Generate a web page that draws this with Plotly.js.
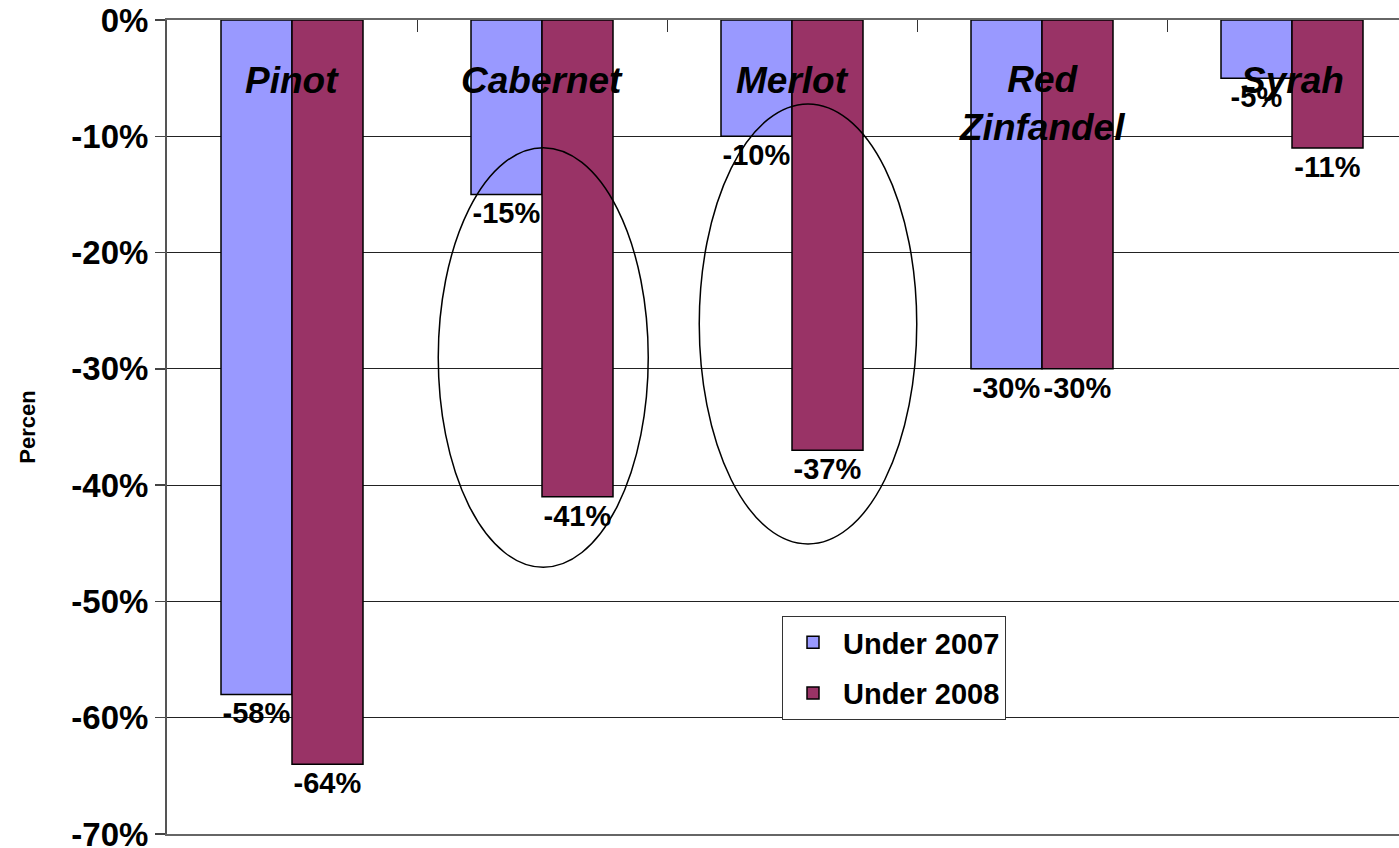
<!DOCTYPE html>
<html>
<head>
<meta charset="utf-8">
<script src="https://cdn.plot.ly/plotly-3.0.1.min.js"></script>
<style>
  html, body { margin: 0; padding: 0; overflow: hidden; background: #fff; }
  #chart { width: 1417px; height: 848px; }
</style>
</head>
<body>
<div id="chart"></div>
<script>
// Variacion porcentual por varietal, 2007 vs 2008
const categorias = ["Pinot", "Cabernet", "Merlot", "Red Zinfandel", "Syrah"];
const etiquetas = ["Pinot", "Cabernet", "Merlot", "Red<br>Zinfandel", "Syrah"];
const under2007 = [-58, -15, -10, -30, -5];
const under2008 = [-64, -41, -37, -30, -11];
const yTicks = [0, -10, -20, -30, -40, -50, -60, -70];
const yTickText = ["0%", "-10%", "-20%", "-30%", "-40%", "-50%", "-60%", "-70%"];

// elipses que resaltan Cabernet y Merlot (en unidades de los ejes)
const elipses = [
  { x0: 0.585, x1: 1.425, y0: -10.98, y1: -47.06 },
  { x0: 1.629, x1: 2.499, y0: -7.22, y1: -45.06 },
];

const FONT = "'Liberation Sans', Arial, sans-serif";

const serie = (nombre, valores, color, grupo) => ({
  type: "bar",
  name: nombre,
  legendgroup: grupo,
  x: categorias,
  y: valores,
  text: valores.map((v) => v + "%"),
  textposition: "outside",
  constraintext: "none",
  cliponaxis: false,
  textfont: { family: FONT, size: 29, color: "#000", weight: "bold" },
  marker: { color: color, line: { color: "#000", width: 1.5 } },
  hoverinfo: "x+y",
});

const data = [
  serie("Under 2007", under2007, "#9999FF", "a"),
  serie("Under 2008", under2008, "#993366", "b"),
];

const layout = {
  width: 1417, height: 848,
  margin: { l: 167, r: 0, t: 20, b: 14 },
  paper_bgcolor: "#fff", plot_bgcolor: "#fff",
  barmode: "group", bargap: 0.432, bargroupgap: 0,
  font: { family: FONT, color: "#000" },
  xaxis: {
    side: "top", showticklabels: false, showgrid: false, zeroline: false,
    ticks: "inside", tickson: "boundaries", ticklen: 12, tickwidth: 1, tickcolor: "#333",
    showline: true, mirror: true, linecolor: "#666", linewidth: 2,
  },
  yaxis: {
    range: [-70, 0], tickvals: yTicks, ticktext: yTickText,
    tickfont: { family: FONT, size: 33, weight: "bold", color: "#000" },
    ticklabeloverflow: "allow",
    ticks: "outside", ticklen: 10, tickcolor: "#444", tickwidth: 1.5,
    showline: true, linecolor: "#555", linewidth: 2,
    showgrid: true, gridcolor: "#222", gridwidth: 1, zeroline: false,
    title: { text: "Percen", font: { family: FONT, size: 22, weight: "bold" }, standoff: 30 },
  },
  legend: {
    x: 0.492, y: 0.268, xanchor: "left", yanchor: "top",
    bgcolor: "#fff", bordercolor: "#333", borderwidth: 1,
    traceorder: "grouped", tracegroupgap: 10, itemwidth: 50,
    font: { family: FONT, size: 29, weight: "bold", color: "#000" },
  },
  shapes: elipses.map((e) => ({
    type: "circle", xref: "x", yref: "y", layer: "above",
    x0: e.x0, x1: e.x1, y0: e.y0, y1: e.y1,
    line: { color: "#000", width: 1.5 },
  })),
  annotations: categorias.map((c, i) => ({
    x: c, y: etiquetas[i].includes("<br>") ? -7.2 : -5.2,
    xref: "x", yref: "y", yanchor: "middle", showarrow: false,
    text: "<i>" + etiquetas[i] + "</i>",
    font: { family: FONT, size: 37, weight: "bold", color: "#000" },
  })),
};

Plotly.newPlot("chart", data, layout, { displayModeBar: false, staticPlot: true });
</script>
</body>
</html>
